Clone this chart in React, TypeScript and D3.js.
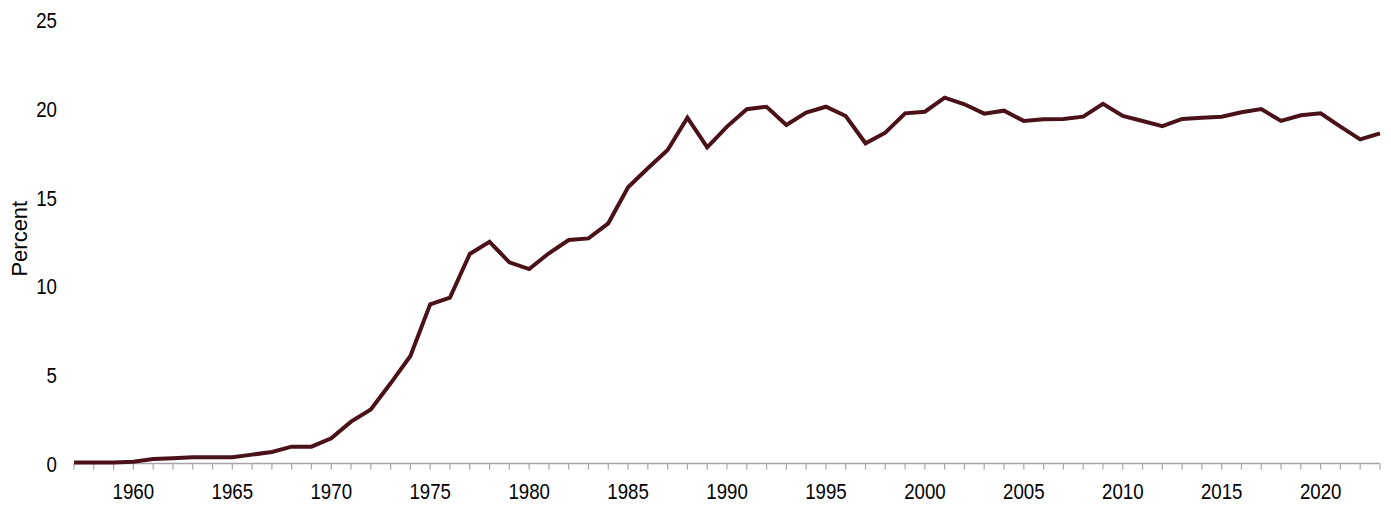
import React from "react";
import * as d3 from "d3";

const years: number[] = d3.range(1957, 2024);
const values: number[] = [
  0.05, 0.05, 0.05, 0.1, 0.25, 0.3, 0.35, 0.35, 0.35, 0.5,
  0.65, 0.95, 0.95, 1.42, 2.36, 3.05, 4.52, 6.06, 8.97, 9.35,
  11.81, 12.5, 11.34, 10.96, 11.85, 12.6, 12.69, 13.54, 15.57, 16.64,
  17.67, 19.49, 17.82, 18.99, 19.97, 20.11, 19.08, 19.78, 20.11, 19.59,
  18.05, 18.65, 19.74, 19.83, 20.62, 20.25, 19.72, 19.89, 19.31, 19.4,
  19.42, 19.55, 20.27, 19.59, 19.31, 19.02, 19.42, 19.49, 19.55, 19.8,
  19.98, 19.31, 19.63, 19.74, 18.99, 18.27, 18.61,
];
const yTicks: number[] = [0, 5, 10, 15, 20, 25];
const xLabelYears: number[] = [1960, 1965, 1970, 1975, 1980, 1985, 1990, 1995, 2000, 2005, 2010, 2015, 2020];

const W = 1391;
const H = 506;
const left = 74;
const right = 1380;
const top = 20;
const bottom = 463.5;
const squeeze = 0.83;

export default function App() {
  const x = d3.scaleLinear().domain([1957, 2023]).range([left, right]);
  const y = d3.scaleLinear().domain([0, 25]).range([bottom, top]);
  const line = d3
    .line<number>()
    .x((_, i) => x(years[i]))
    .y((d) => y(d));
  const font = "'Liberation Sans', Arial, Helvetica, sans-serif";
  return (
    <svg
      width={W}
      height={H}
      style={{ position: "absolute", left: 0, top: 0, display: "block", background: "#fff" }}
    >
      {yTicks.map((t) => (
        <text
          key={t}
          transform={`translate(57,${y(t) + 8.3}) scale(${squeeze},1)`}
          textAnchor="end"
          fontFamily={font}
          fontSize={22.5}
          fill="#000"
        >
          {t}
        </text>
      ))}
      <text
        transform={`translate(26.7,238.7) rotate(-90)`}
        textAnchor="middle"
        fontFamily={font}
        fontSize={22}
        fill="#000"
      >
        Percent
      </text>
      <line x1={left} x2={right} y1={bottom} y2={bottom} stroke="#a6a6a6" strokeWidth={1.5} />
      {years.map((yr) => (
        <line
          key={yr}
          x1={x(yr)}
          x2={x(yr)}
          y1={bottom}
          y2={bottom + 6}
          stroke="#a6a6a6"
          strokeWidth={1.2}
        />
      ))}
      {xLabelYears.map((yr) => (
        <text
          key={yr}
          transform={`translate(${x(yr)},499.2) scale(${squeeze},1)`}
          textAnchor="middle"
          fontFamily={font}
          fontSize={22.5}
          fill="#000"
        >
          {yr}
        </text>
      ))}
      <path
        d={line(values) || ""}
        fill="none"
        stroke="#4a1218"
        strokeWidth={4}
        strokeLinejoin="miter"
      />
    </svg>
  );
}
